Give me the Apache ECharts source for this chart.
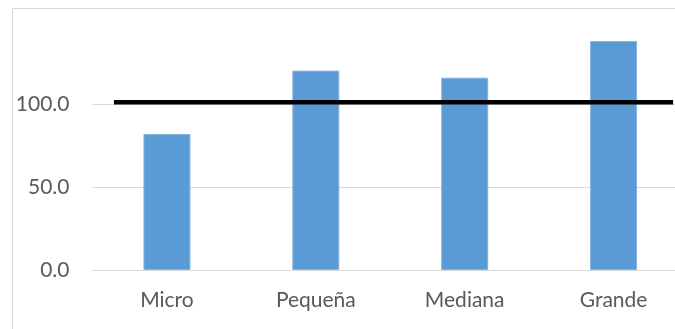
<!DOCTYPE html>
<html>
<head>
<meta charset="utf-8">
<script src="https://cdn.jsdelivr.net/npm/echarts@6/dist/echarts.min.js"></script>
<style>
  html, body { margin: 0; padding: 0; background: #fff; }
  #chart { width: 675px; height: 329px; }
</style>
</head>
<body>
<div id="chart"></div>
<script>
// datos del gráfico
const categorias = ['Micro', 'Pequeña', 'Mediana', 'Grande']
const valores = [82.3, 120.6, 116.3, 138.5]
// línea de referencia (eje x secundario 0..4)
const lineaX = [0.144, 3.9]
const lineaY = 101.5

const chart = echarts.init(document.getElementById('chart'))

const option = {
  animation: false,
  textStyle: { fontFamily: 'Lato' },
  grid: { left: 92.5, top: 22, width: 595.5, bottom: 59, containLabel: false, outerBoundsMode: 'none' },
  graphic: [
    {
      type: 'rect',
      shape: { x: 12.5, y: 8.5, width: 700, height: 400 },
      style: { fill: 'none', stroke: '#d9d9d9', lineWidth: 1 },
      silent: true
    }
  ],
  xAxis: [
    {
      type: 'category',
      data: categorias,
      axisLine: { lineStyle: { color: '#d9d9d9', width: 1 } },
      axisTick: { show: false },
      axisLabel: { color: '#595959', fontSize: 21, fontFamily: 'Lato', margin: 20 }
    },
    {
      type: 'value',
      min: 0,
      max: 4,
      show: false
    }
  ],
  yAxis: {
    type: 'value',
    min: 0,
    max: 150,
    interval: 50,
    axisLine: { show: false },
    axisTick: { show: false },
    axisLabel: {
      color: '#595959',
      fontSize: 21,
      fontFamily: 'Lato',
      margin: 23,
      showMaxLabel: false,
      formatter: (v) => v.toFixed(1)
    },
    splitLine: {
      lineStyle: { color: ['#d9d9d9', '#d9d9d9', '#d9d9d9', 'rgba(0,0,0,0)'], width: 1 }
    }
  },
  series: [
    {
      type: 'bar',
      data: valores,
      barWidth: 47,
      itemStyle: { color: '#5b9bd5', borderColor: '#86b4e0', borderWidth: 1 }
    },
    {
      type: 'line',
      xAxisIndex: 1,
      data: lineaX.map((x) => [x, lineaY]),
      symbol: 'none',
      lineStyle: { color: '#000', width: 4.5 },
      z: 5
    }
  ]
}

chart.setOption(option)
</script>
</body>
</html>
